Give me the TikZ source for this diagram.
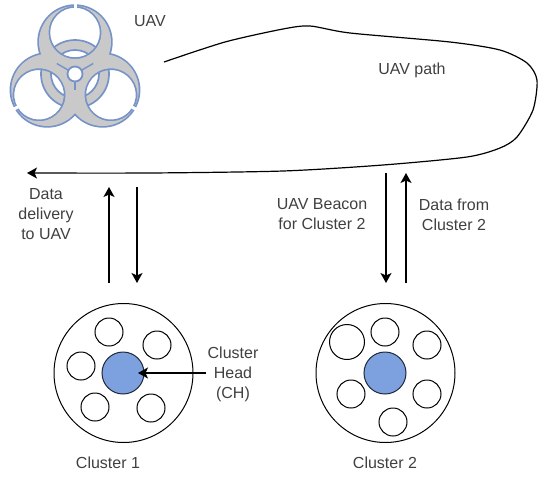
\documentclass[tikz,border=0pt]{standalone}
\usepackage{fontspec}
\setmainfont{Liberation Sans}
\usetikzlibrary{arrows.meta}
\definecolor{biob}{HTML}{7593C8}
\definecolor{biog}{HTML}{C9C9C9}
\definecolor{chb}{HTML}{7CA1DE}
\definecolor{txt}{HTML}{404040}
\tikzset{
  lbl/.style={text=txt,font=\fontsize{16}{20}\selectfont,align=center,inner sep=0pt},
  arr/.style={-{Stealth[length=10pt,width=11pt,inset=2.5pt]},line width=1.2pt,black},
  bigc/.style={circle,draw=black,line width=1pt,minimum size=139pt,inner sep=0pt},
  smallc/.style={circle,draw=black,line width=1pt,minimum size=28pt,inner sep=0pt},
  largerc/.style={circle,draw=black,line width=1pt,minimum size=35pt,inner sep=0pt},
  headc/.style={circle,draw=black!75!chb,fill=chb,line width=1pt,minimum size=42pt,inner sep=0pt},
}
\begin{document}
\begin{tikzpicture}[x=1pt,y=-1pt]
\useasboundingbox (0,0) rectangle (550,483);
% biohazard
\coordinate (bc) at (75,74);
\fill[biog,draw=biob,line width=1.7pt,even odd rule] (bc) circle[radius=34] (bc) circle[radius=24];
\foreach \a in {0,120,240}{
  \begin{scope}[rotate around={\a:(bc)}]
    \draw[biob,line width=3.4pt,even odd rule] (75,42) circle[radius=36] (75,32.5) circle[radius=26.5];
  \end{scope}
}
\foreach \a in {0,120,240}{
  \begin{scope}[rotate around={\a:(bc)}]
    \fill[biog,even odd rule] (75,42) circle[radius=36] (75,32.5) circle[radius=26.5];
    \fill[white] (73.6,2) rectangle (76.6,9);
  \end{scope}
}
\foreach \a/\l in {90/8,210/13,330/13}{
  \draw[biob,line width=1.4pt] (bc) ++(\a:8) -- ++(\a:\l);
}
\node[circle,fill=white,draw=biob,line width=1.8pt,minimum size=15pt,inner sep=0pt] (hub) at (bc) {};
% clusters
\node[bigc] (c1) at (123.5,373) {};
\node[headc] (h1) at (123,373) {};
\node[smallc] (a1) at (109,332) {};
\node[smallc] (a2) at (157,345) {};
\node[smallc] (a3) at (81,366) {};
\node[smallc] (a4) at (95,407) {};
\node[smallc] (a5) at (151,408) {};
\node[bigc] (c2) at (385.5,373) {};
\node[headc] (h2) at (385,373) {};
\node[largerc] (b1) at (347,342) {};
\node[smallc] (b2) at (385,332) {};
\node[smallc] (b3) at (427,345) {};
\node[smallc] (b4) at (351,394) {};
\node[smallc] (b5) at (427,394) {};
\node[smallc] (b6) at (393,422) {};
% labels
\node[lbl] (luav) at (150,21) {UAV};
\node[lbl] (lpath) at (412,70) {UAV path};
\node[lbl] (ldel) at (46,214.5) {Data\\delivery\\to UAV};
\node[lbl] (lbea) at (322,214.5) {UAV Beacon\\for Cluster 2};
\node[lbl] (ldat) at (454,214.5) {Data from\\Cluster 2};
\node[lbl] (lch) at (233,374) {Cluster\\Head\\(CH)};
\node[lbl] (lc1) at (108,463) {Cluster 1};
\node[lbl] (lc2) at (385,463) {Cluster 2};
% connectors
\coordinate (s1) at (109,283); \coordinate (e1) at (109,187);
\coordinate (s2) at (137,187); \coordinate (e2) at (137,283);
\coordinate (s3) at (386,173); \coordinate (e3) at (386,283);
\coordinate (s4) at (406,283); \coordinate (e4) at (406,173);
\coordinate (s5) at (206,373); \coordinate (e5) at (138,373);
\draw[arr] (s1) -- (e1);
\draw[arr] (s2) -- (e2);
\draw[arr] (s3) -- (e3);
\draw[arr] (s4) -- (e4);
\draw[arr] (s5) -- (e5);
\draw[arr]
  plot[smooth,tension=0.45] coordinates {(164,62) (225,42) (283,29) (310,26) (350,33) (450,42) (500,50) (527,63) (537,80) (533,110) (517,137) (500,148) (467,157) (383,165) (283,171) (150,173) (27,173)};
\end{tikzpicture}
\end{document}
